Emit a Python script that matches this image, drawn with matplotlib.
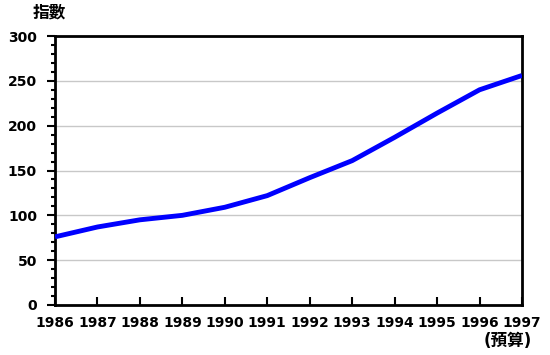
import matplotlib
matplotlib.use("Agg")
import matplotlib.pyplot as plt
from matplotlib.ticker import MultipleLocator

plt.rcParams['font.family'] = ['DejaVu Sans', 'Noto Sans CJK TC']

years = [1986, 1987, 1988, 1989, 1990, 1991, 1992, 1993, 1994, 1995, 1996, 1997]
index = [76, 87, 95, 100, 109, 122, 142, 161, 187, 214, 240, 256]
year_labels = [str(y) for y in years]

fig = plt.figure(figsize=(5.5, 3.55), dpi=100)
ax = fig.add_axes([55 / 550, 1 - 305 / 355, (522 - 55) / 550, (305 - 36) / 355])

ax.plot(years, index, color="#0000ff", linewidth=3.5, solid_capstyle="butt", zorder=3)

ax.set_xlim(1986, 1997)
ax.set_ylim(0, 300)
ax.set_xticks(years)
ax.set_xticklabels(year_labels, fontweight="bold", fontsize=10)
ax.set_yticks(range(0, 301, 50))
ax.set_yticklabels([str(v) for v in range(0, 301, 50)], fontweight="bold", fontsize=10)
ax.yaxis.set_minor_locator(MultipleLocator(10))
ax.tick_params(axis="y", which="major", direction="out", length=6, width=1.5, pad=7)
ax.tick_params(axis="y", which="minor", direction="out", length=3, width=1.5)
ax.tick_params(axis="x", which="major", direction="in", length=6, width=1.5, pad=8)
ax.grid(axis="y", color="#c8c8c8", linewidth=1)
ax.set_axisbelow(True)
for s in ax.spines.values():
    s.set_linewidth(2)

fig.text(33 / 550, 1 - 12.5 / 355, "指數", family=["Noto Sans CJK TC"], fontsize=12,
         fontweight="bold", ha="left", va="center")
fig.text(508 / 550, 1 - 341 / 355, "(預算)", family=["DejaVu Sans", "Noto Sans CJK TC"],
         fontsize=12, fontweight="bold", ha="center", va="center")

fig.savefig("out.png", dpi=100)
